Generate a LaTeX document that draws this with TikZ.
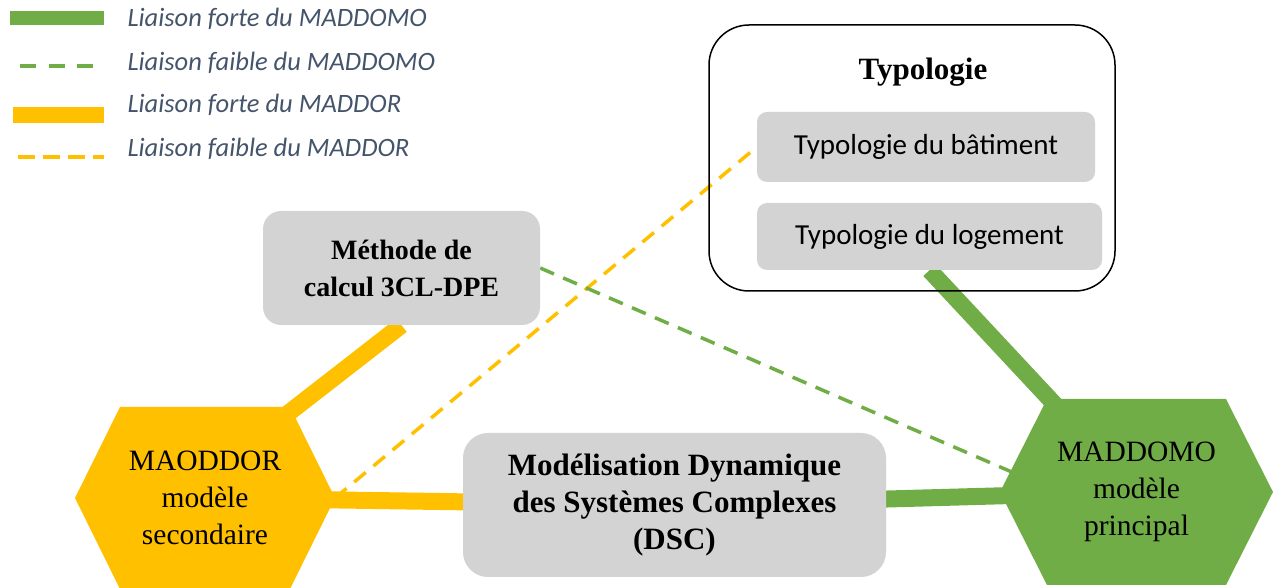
\documentclass[tikz,border=0pt]{standalone}
\usepackage{fontspec}
\setmainfont{Liberation Serif}
\newfontfamily\calibri{Carlito}
\usetikzlibrary{calc,backgrounds}

\definecolor{vert}{HTML}{70AD47}
\definecolor{jaune}{HTML}{FFC000}
\definecolor{gris}{HTML}{D3D3D3}
\definecolor{ardoise}{HTML}{44546A}

\begin{document}
\begin{tikzpicture}[x=1pt, y=1pt,
    boite/.style={fill=gris, rounded corners=#1, inner sep=0pt, align=center},
    boite/.default=20pt,
    hexa/.style={inner sep=0pt, outer sep=0pt, align=center, font=\fontsize{29.5}{37}\selectfont},
    gras/.style={font=\bfseries\fontsize{#1}{37}\selectfont},
    typo/.style={font=\calibri\fontsize{29}{34}\selectfont},
    fort/.style={line width=17pt},
    faible/.style={line width=3.5pt, dash pattern=on 15pt off 10pt},
    legende/.style={anchor=base west, text=ardoise, font=\calibri\itshape\fontsize{26.5}{30}\selectfont}]

    \useasboundingbox (0,0) rectangle (1277,588);

    % Legende
    \draw[vert, line width=14pt] (10,570) -- (104,570);
    \draw[vert, line width=4.5pt, dash pattern=on 16pt off 12.5pt] (20,522) -- (93,522);
    \draw[jaune, line width=16pt] (13,473) -- (104,473);
    \draw[jaune, line width=4pt, dash pattern=on 17pt off 8pt] (18,431) -- (104,431);
    \node[legende] (leg1) at (124,561) {Liaison forte du MADDOMO};
    \node[legende] (leg2) at (124,517) {Liaison faible du MADDOMO};
    \node[legende] (leg3) at (124,475) {Liaison forte du MADDOR};
    \node[legende] (leg4) at (124,431) {Liaison faible du MADDOR};

    % Typologie
    \node[draw, line width=1.5pt, rounded corners=40pt, minimum width=406pt, minimum height=266pt] (typologie) at (912,430) {};
    \node[gras=31, anchor=base] (titre) at (923,508) {Typologie};
    \node[boite=10pt, typo, minimum width=338pt, minimum height=70pt] (batiment) at (926,441) {Typologie du bâtiment};
    \node[boite=10pt, typo, minimum width=345pt, minimum height=67pt] (logement) at (929.5,351.5) {Typologie du logement};

    % Boites grises
    \node[boite=18pt, gras=28, minimum width=277pt, minimum height=114pt] (methode) at (401.5,320) {Méthode de\\calcul 3CL-DPE};
    \node[boite=25pt, gras=31, minimum width=423pt, minimum height=144pt] (dsc) at (674.5,83) {Modélisation Dynamique\\des Systèmes Complexes\\(DSC)};

    % Modeles
    \node[hexa, minimum width=260pt, minimum height=182pt] (maoddor) at (205,90) {MAODDOR\\modèle\\secondaire};
    \node[hexa, minimum width=273pt, minimum height=186pt] (maddomo) at (1136.5,96) {MADDOMO\\modèle\\principal};

    \begin{scope}[on background layer]
        % Liaisons
        \draw[jaune, fort] (methode.south) -- ($(maoddor.center)+(0,20)$);
        \draw[jaune, fort] (maoddor.center) -- (dsc.center);
        \draw[jaune, faible] (maoddor.east) -- (batiment.west);
        \draw[vert, fort] (dsc.center) -- (maddomo.center);
        \draw[vert, fort] (logement.south) -- (maddomo.center);
        \draw[vert, faible] (methode.east) -- ($(maddomo.center)+(-60,-8)$);

        % Hexagones
        \fill[jaune] (maoddor.west) -- ($(maoddor.north west)+(45,0)$) -- ($(maoddor.north east)+(-45,0)$)
            -- (maoddor.east) -- ($(maoddor.south east)+(-45,0)$) -- ($(maoddor.south west)+(45,0)$) -- cycle;
        \fill[vert] (maddomo.west) -- ($(maddomo.north west)+(47,0)$) -- ($(maddomo.north east)+(-47,0)$)
            -- (maddomo.east) -- ($(maddomo.south east)+(-47,0)$) -- ($(maddomo.south west)+(47,0)$) -- cycle;
    \end{scope}
\end{tikzpicture}
\end{document}
